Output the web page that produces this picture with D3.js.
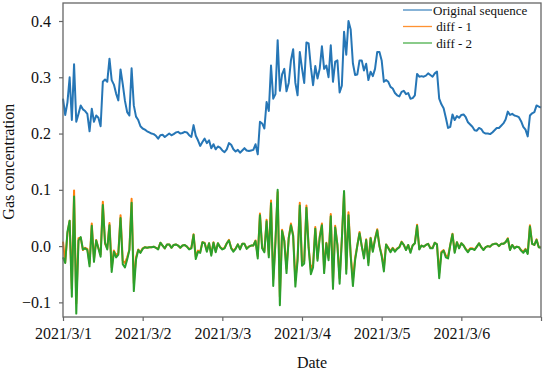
<!DOCTYPE html>
<html>
<head>
<meta charset="utf-8">
<script src="https://cdn.jsdelivr.net/npm/d3@7"></script>
<style>
body { margin: 0; background: #fff; }
text { font-family: "Liberation Serif", "Times New Roman", serif; fill: #111; }
</style>
</head>
<body>
<svg width="550" height="376"></svg>
<script>
// readings every 40 min, 2021/3/1 00:00 -> 2021/3/7 00:00
var original = [
  0.262, 0.233, 0.255, 0.300, 0.224, 0.323, 0.221, 0.235, 0.250, 0.243, 0.240, 0.235,
  0.204, 0.244, 0.221, 0.232, 0.228, 0.213, 0.292, 0.296, 0.292, 0.333, 0.295, 0.287,
  0.271, 0.259, 0.314, 0.288, 0.258, 0.238, 0.232, 0.316, 0.250, 0.230, 0.224, 0.213,
  0.209, 0.207, 0.204, 0.202, 0.200, 0.199, 0.196, 0.191, 0.197, 0.198, 0.194, 0.197,
  0.200, 0.197, 0.199, 0.202, 0.203, 0.200, 0.201, 0.203, 0.202, 0.197, 0.194, 0.215,
  0.196, 0.188, 0.178, 0.185, 0.191, 0.183, 0.188, 0.174, 0.181, 0.172, 0.177, 0.175,
  0.170, 0.167, 0.172, 0.183, 0.180, 0.172, 0.168, 0.171, 0.166, 0.170, 0.174, 0.170,
  0.169, 0.170, 0.171, 0.181, 0.163, 0.221, 0.218, 0.209, 0.256, 0.240, 0.321, 0.262,
  0.270, 0.366, 0.276, 0.305, 0.315, 0.275, 0.290, 0.330, 0.350, 0.290, 0.268, 0.345,
  0.316, 0.290, 0.362, 0.360, 0.318, 0.286, 0.320, 0.298, 0.315, 0.355, 0.315, 0.321,
  0.300, 0.357, 0.292, 0.328, 0.330, 0.273, 0.285, 0.381, 0.340, 0.400, 0.385, 0.325,
  0.304, 0.305, 0.330, 0.330, 0.312, 0.324, 0.295, 0.310, 0.302, 0.315, 0.345, 0.345,
  0.330, 0.292, 0.295, 0.292, 0.283, 0.280, 0.272, 0.268, 0.266, 0.274, 0.276, 0.270,
  0.272, 0.262, 0.263, 0.268, 0.306, 0.301, 0.302, 0.301, 0.303, 0.307, 0.304, 0.301,
  0.307, 0.310, 0.262, 0.252, 0.245, 0.228, 0.210, 0.212, 0.234, 0.224, 0.231, 0.228,
  0.233, 0.234, 0.229, 0.220, 0.216, 0.212, 0.206, 0.205, 0.210, 0.208, 0.202, 0.200,
  0.200, 0.199, 0.202, 0.206, 0.210, 0.210, 0.214, 0.218, 0.225, 0.239, 0.233, 0.235,
  0.232, 0.231, 0.229, 0.222, 0.212, 0.207, 0.195, 0.232, 0.236, 0.238, 0.250, 0.248,
  0.246
];

var diff1 = [
  0.008, -0.029, 0.022, 0.045, -0.076, 0.099, -0.102, 0.014, 0.015, -0.007, -0.003, -0.005,
  -0.031, 0.040, -0.023, 0.011, -0.004, -0.015, 0.079, 0.004, -0.004, 0.041, -0.038, -0.008,
  -0.016, -0.012, 0.055, -0.026, -0.030, -0.020, -0.006, 0.084, -0.066, -0.020, -0.006, -0.011,
  -0.004, -0.002, -0.003, -0.002, -0.002, -0.001, -0.003, -0.005, 0.006, 0.001, -0.004, 0.003,
  0.003, -0.003, 0.002, 0.003, 0.001, -0.003, 0.001, 0.002, -0.001, -0.005, -0.003, 0.021,
  -0.019, -0.008, -0.010, 0.007, 0.006, -0.008, 0.005, -0.014, 0.007, -0.009, 0.005, -0.002,
  -0.005, -0.003, 0.005, 0.011, -0.003, -0.008, -0.004, 0.003, -0.005, 0.004, 0.004, -0.004,
  -0.001, 0.001, 0.001, 0.010, -0.018, 0.058, -0.003, -0.009, 0.047, -0.016, 0.081, -0.059,
  0.008, 0.096, -0.090, 0.029, 0.010, -0.040, 0.015, 0.040, 0.020, -0.060, -0.022, 0.077,
  -0.029, -0.026, 0.072, -0.002, -0.042, -0.032, 0.034, -0.022, 0.017, 0.040, -0.040, 0.006,
  -0.021, 0.057, -0.065, 0.036, 0.002, -0.057, 0.012, 0.096, -0.041, 0.060, -0.015, -0.060,
  -0.021, 0.001, 0.025, 0.000, -0.018, 0.012, -0.029, 0.015, -0.008, 0.013, 0.030, 0.000,
  -0.015, -0.038, 0.003, -0.003, -0.009, -0.003, -0.008, -0.004, -0.002, 0.008, 0.002, -0.006,
  0.002, -0.010, 0.001, 0.005, 0.038, -0.005, 0.001, -0.001, 0.002, 0.004, -0.003, -0.003,
  0.006, 0.003, -0.048, -0.010, -0.007, -0.017, -0.018, 0.002, 0.022, -0.010, 0.007, -0.003,
  0.005, 0.001, -0.005, -0.009, -0.004, -0.004, -0.006, -0.001, 0.005, -0.002, -0.006, -0.002,
  0.000, -0.001, 0.003, 0.004, 0.004, 0.000, 0.004, 0.004, 0.007, 0.014, -0.006, 0.002,
  -0.003, -0.001, -0.002, -0.007, -0.010, -0.005, -0.012, 0.037, 0.004, 0.002, 0.012, -0.002,
  -0.002
];

var diff2 = [
  -0.020, -0.030, 0.025, 0.045, -0.090, 0.088, -0.120, 0.010, 0.016, -0.006, -0.004, -0.007,
  -0.036, 0.036, -0.028, 0.010, -0.004, -0.019, 0.073, 0.006, -0.006, 0.037, -0.046, -0.010,
  -0.020, -0.015, 0.050, -0.032, -0.038, -0.024, -0.007, 0.077, -0.080, -0.024, -0.007, -0.012,
  -0.005, -0.002, -0.003, -0.002, -0.002, -0.001, -0.003, -0.006, 0.006, 0.001, -0.004, 0.003,
  0.003, -0.003, 0.002, 0.003, 0.001, -0.003, 0.001, 0.002, -0.001, -0.006, -0.004, 0.020,
  -0.023, -0.010, -0.012, 0.007, 0.005, -0.010, 0.005, -0.017, 0.006, -0.011, 0.005, -0.002,
  -0.006, -0.004, 0.005, 0.010, -0.004, -0.010, -0.005, 0.003, -0.006, 0.004, 0.004, -0.005,
  -0.001, 0.001, 0.001, 0.009, -0.022, 0.055, -0.004, -0.011, 0.044, -0.020, 0.076, -0.071,
  0.008, 0.100, -0.105, 0.027, 0.009, -0.048, 0.014, 0.037, 0.018, -0.072, -0.026, 0.072,
  -0.035, -0.031, 0.068, -0.003, -0.050, -0.038, 0.031, -0.026, 0.015, 0.037, -0.048, 0.005,
  -0.025, 0.053, -0.076, 0.033, 0.002, -0.067, 0.011, 0.098, -0.049, 0.055, -0.018, -0.071,
  -0.025, 0.001, 0.023, 0.000, -0.022, 0.011, -0.034, 0.014, -0.010, 0.012, 0.028, 0.000,
  -0.018, -0.045, 0.003, -0.004, -0.011, -0.004, -0.010, -0.005, -0.002, 0.007, 0.002, -0.007,
  0.002, -0.012, 0.001, 0.005, 0.036, -0.006, 0.001, -0.001, 0.002, 0.004, -0.004, -0.004,
  0.006, 0.003, -0.057, -0.012, -0.008, -0.020, -0.022, 0.002, 0.021, -0.012, 0.007, -0.004,
  0.005, 0.001, -0.006, -0.011, -0.005, -0.005, -0.007, -0.001, 0.005, -0.002, -0.007, -0.002,
  0.000, -0.001, 0.003, 0.004, 0.004, 0.000, 0.004, 0.004, 0.007, 0.013, -0.007, 0.002,
  -0.004, -0.001, -0.002, -0.008, -0.012, -0.006, -0.014, 0.035, 0.004, 0.002, 0.011, -0.002,
  -0.003
];

var yTicks = [-0.1, 0.0, 0.1, 0.2, 0.3, 0.4];
var xTickLabels = ["2021/3/1", "2021/3/2", "2021/3/3", "2021/3/4", "2021/3/5", "2021/3/6", ""];
var seriesNames = ["Original sequence", " diff - 1", " diff - 2"];
var colors = ["#2676b6", "#ff7f0e", "#2ca02c"];

var svg = d3.select("svg"),
    margin = {top: 3, right: 9, bottom: 59, left: 63},
    width = +svg.attr("width") - margin.left - margin.right,
    height = +svg.attr("height") - margin.top - margin.bottom;

var start = new Date(2021, 2, 1),
    end = new Date(2021, 2, 7),
    step = 40 * 60 * 1000;

var x = d3.scaleTime().domain([start, end]).range([0, width]),
    y = d3.scaleLinear().domain([-0.126, 0.432]).range([height, 0]);

var g = svg.append("g")
    .attr("transform", "translate(" + margin.left + "," + margin.top + ")");

var tickDays = d3.timeDay.range(start, d3.timeDay.offset(end, 1));

var xAxis = g.append("g")
    .attr("transform", "translate(0," + height + ")")
    .call(d3.axisBottom(x)
        .tickValues(tickDays)
        .tickFormat(function(d, i) { return xTickLabels[i]; })
        .tickSize(4)
        .tickPadding(7));

var yAxis = g.append("g")
    .call(d3.axisLeft(y)
        .tickValues(yTicks)
        .tickFormat(d3.format(".1f"))
        .tickSize(4)
        .tickPadding(8));

[xAxis, yAxis].forEach(function(a) {
    a.select(".domain").remove();
    a.selectAll(".tick line").attr("stroke", "#666").attr("stroke-width", 1.2);
    a.selectAll(".tick text")
        .style("font-family", "'Liberation Serif', serif")
        .style("font-size", "16px")
        .attr("fill", "#111");
});

var line = d3.line()
    .x(function(d, i) { return x(new Date(start.getTime() + i * step)); })
    .y(function(d) { return y(d); });

[original, diff1, diff2].forEach(function(s, k) {
    g.append("path")
        .datum(s)
        .attr("fill", "none")
        .attr("stroke", colors[k])
        .attr("stroke-width", 2)
        .attr("stroke-linejoin", "round")
        .attr("d", line);
});

// frame
g.append("rect")
    .attr("width", width)
    .attr("height", height)
    .attr("fill", "none")
    .attr("stroke", "#666")
    .attr("stroke-width", 1.3);

// legend, no box
var legend = g.selectAll(".legend")
    .data(seriesNames)
    .enter().append("g")
    .attr("transform", function(d, i) { return "translate(340," + (7 + i * 16.5) + ")"; });

legend.append("line")
    .attr("x1", 0).attr("x2", 29)
    .attr("stroke", function(d, i) { return colors[i]; })
    .attr("stroke-opacity", 0.85)
    .attr("stroke-width", 1.3);

legend.append("text")
    .attr("x", 30)
    .attr("dy", "0.35em")
    .style("font-size", "13px")
    .style("white-space", "pre")
    .text(function(d) { return d; });

svg.append("text")
    .attr("transform", "translate(14," + (margin.top + y(0.15)) + ") rotate(-90)")
    .attr("text-anchor", "middle")
    .style("font-size", "16px")
    .text("Gas concentration");

svg.append("text")
    .attr("x", 312)
    .attr("y", 368)
    .attr("text-anchor", "middle")
    .style("font-size", "16px")
    .text("Date");
</script>
</body>
</html>
